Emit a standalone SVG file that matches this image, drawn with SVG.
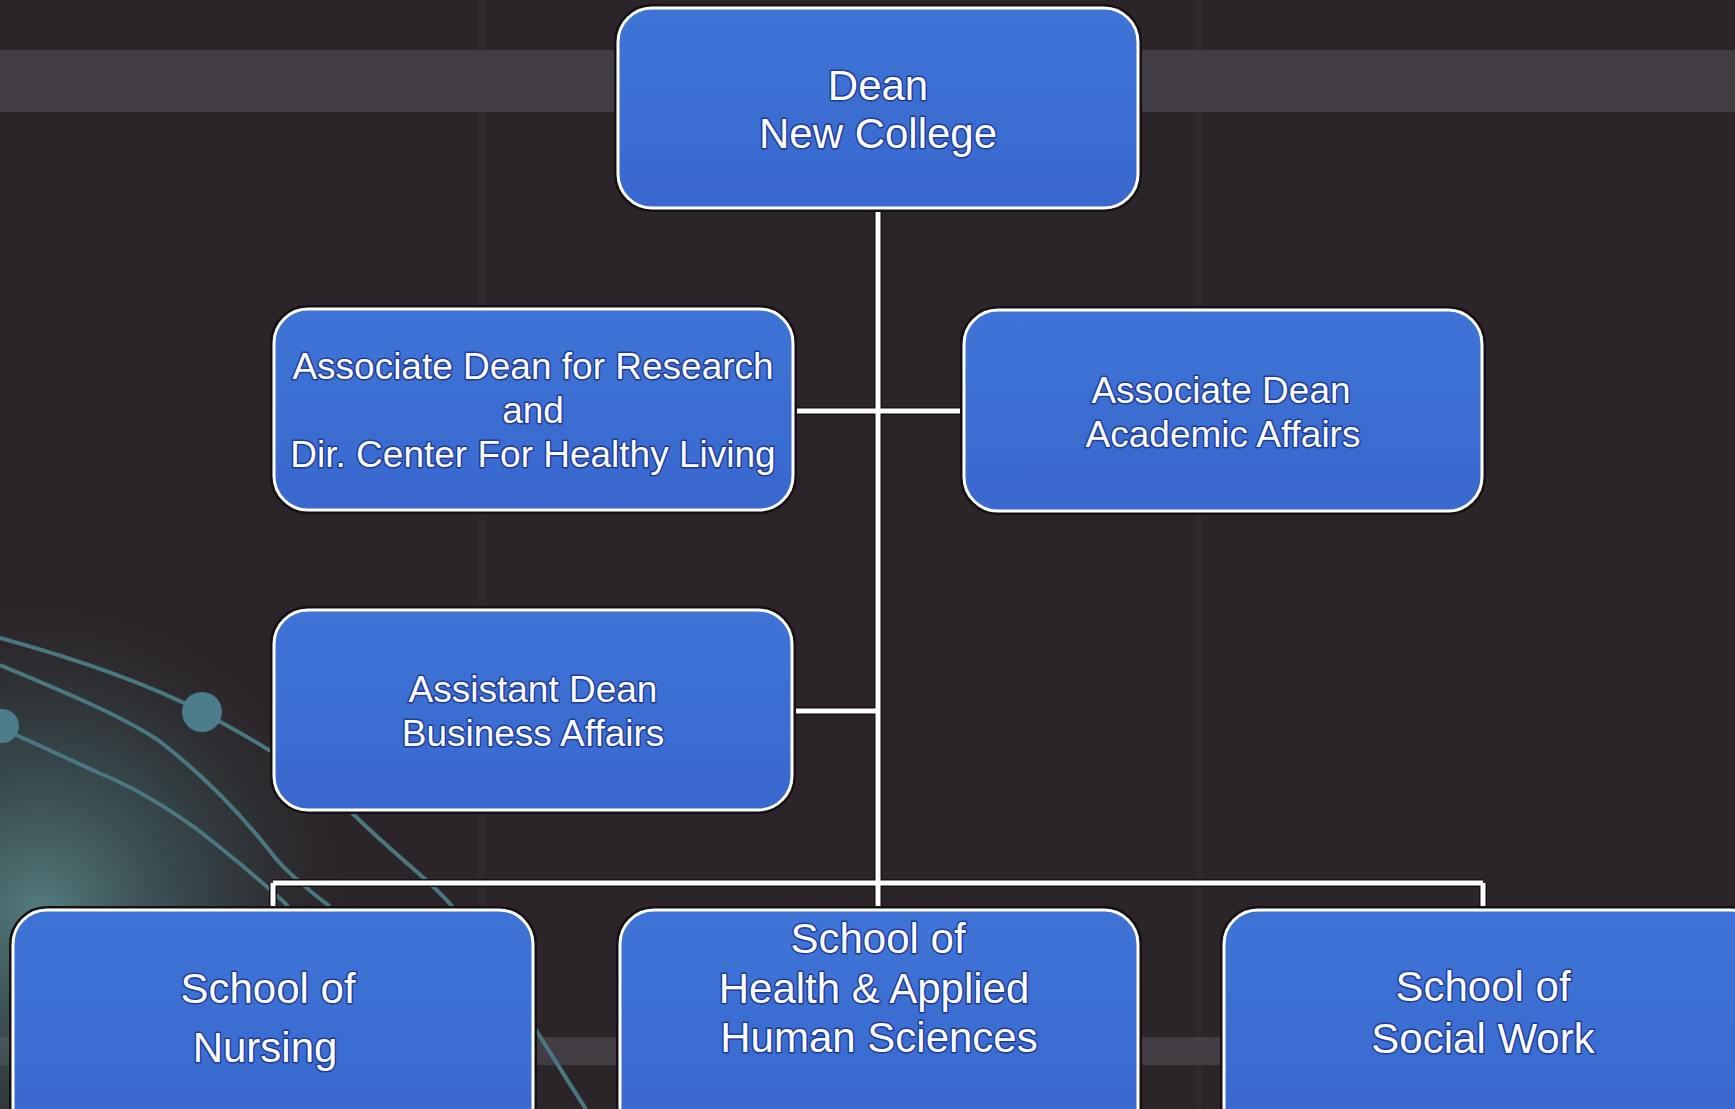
<svg xmlns="http://www.w3.org/2000/svg" width="1735" height="1109" viewBox="0 0 1735 1109">
<defs>
<linearGradient id="boxFill" x1="0" y1="0" x2="0" y2="1">
<stop offset="0" stop-color="#3f74d6"/>
<stop offset="1" stop-color="#3968ce"/>
</linearGradient>
<radialGradient id="glow" cx="40" cy="910" r="340" gradientUnits="userSpaceOnUse">
<stop offset="0" stop-color="#5f9292" stop-opacity="0.8"/>
<stop offset="0.5" stop-color="#3f6468" stop-opacity="0.45"/>
<stop offset="1" stop-color="#2c2629" stop-opacity="0"/>
</radialGradient>
<style>
.bg{fill:#2b2428}
.band{fill:#47434a;opacity:0.8}
.stripe{fill:#3a3438;opacity:0.3}
.arc{fill:none;stroke:#4a7880;stroke-width:4}
.dot{fill:#4b7e8a}
.edge-out{fill:none;stroke:#141014;stroke-width:8}
.edge{fill:none;stroke:#ffffff;stroke-width:5}
.rim{fill:none;stroke:#141014;stroke-width:8}
.box{fill:url(#boxFill);stroke:#ffffff;stroke-width:3}
.t{font-family:"Liberation Sans",Arial,sans-serif;fill:#ffffff;stroke:#1d3a9a;stroke-width:3;paint-order:stroke;stroke-linejoin:round;text-anchor:middle}
.t37{font-size:37px}
.t42{font-size:42px}
</style>
</defs>

<g id="background">
<rect class="bg" x="0" y="0" width="1735" height="1109"/>
<rect class="stripe" x="478" y="0" width="8" height="1109"/>
<rect class="stripe" x="1196" y="0" width="6" height="1109"/>
<rect class="band" x="0" y="50" width="1735" height="62"/>
<rect class="band" x="0" y="1037" width="1735" height="28"/>
<rect x="0" y="560" width="420" height="549" fill="url(#glow)"/>
<path class="arc" d="M0,638 C80,660 150,685 202,712 C270,748 320,780 352,813 C400,860 430,880 451,905 C490,955 515,990 534,1027 C555,1060 570,1085 586,1109"/>
<path class="arc" d="M0,665 C60,690 120,715 158,740 C210,780 250,825 277,860 C295,880 315,895 328,905 L380,980"/>
<path class="arc" d="M0,728 C40,745 70,760 99,773 C140,790 170,810 198,830 C230,855 260,880 285,903 L330,960"/>
<circle class="dot" cx="202" cy="712" r="20"/>
<circle class="dot" cx="2" cy="726" r="17"/>
</g>

<g id="connectors">
<path class="edge-out" d="M878,208 V910 M792,411 H964 M792,711 H878 M273,883 H1483 M273,883 V910 M1483,883 V910"/>
<path class="edge" d="M878,208 V910 M792,411 H964 M792,711 H878 M273,883 H1483 M273,883 V910 M1483,883 V910"/>
</g>

<g id="dean">
<rect class="rim" x="618" y="8" width="520" height="200" rx="34"/>
<rect class="box" x="618" y="8" width="520" height="200" rx="34"/>
<text class="t t42" x="878" y="100">Dean</text>
<text class="t t42" x="878" y="148">New College</text>
</g>

<g id="assoc-dean-research">
<rect class="rim" x="274" y="309" width="519" height="201" rx="34"/>
<rect class="box" x="274" y="309" width="519" height="201" rx="34"/>
<text class="t t37" x="533" y="379">Associate Dean for Research</text>
<text class="t t37" x="533" y="423">and</text>
<text class="t t37" x="533" y="467">Dir. Center For Healthy Living</text>
</g>

<g id="assoc-dean-academic">
<rect class="rim" x="964" y="310" width="518" height="201" rx="34"/>
<rect class="box" x="964" y="310" width="518" height="201" rx="34"/>
<text class="t t37" x="1221" y="403">Associate Dean</text>
<text class="t t37" x="1223" y="447">Academic Affairs</text>
</g>

<g id="assistant-dean">
<rect class="rim" x="274" y="610" width="518" height="200" rx="34"/>
<rect class="box" x="274" y="610" width="518" height="200" rx="34"/>
<text class="t t37" x="533" y="702">Assistant Dean</text>
<text class="t t37" x="533" y="746">Business Affairs</text>
</g>

<g id="school-nursing">
<rect class="rim" x="13" y="910" width="520" height="230" rx="34"/>
<rect class="box" x="13" y="910" width="520" height="230" rx="34"/>
<text class="t t42" x="268" y="1003">School of</text>
<text class="t t42" x="265" y="1062">Nursing</text>
</g>

<g id="school-health">
<rect class="rim" x="620" y="910" width="518" height="230" rx="34"/>
<rect class="box" x="620" y="910" width="518" height="230" rx="34"/>
<text class="t t42" x="878" y="953">School of</text>
<text class="t t42" x="874" y="1003">Health &amp; Applied</text>
<text class="t t42" x="879" y="1052">Human Sciences</text>
</g>

<g id="school-social-work">
<rect class="rim" x="1224" y="910" width="540" height="230" rx="34"/>
<rect class="box" x="1224" y="910" width="540" height="230" rx="34"/>
<text class="t t42" x="1483" y="1001">School of</text>
<text class="t t42" x="1483" y="1053">Social Work</text>
</g>
</svg>
